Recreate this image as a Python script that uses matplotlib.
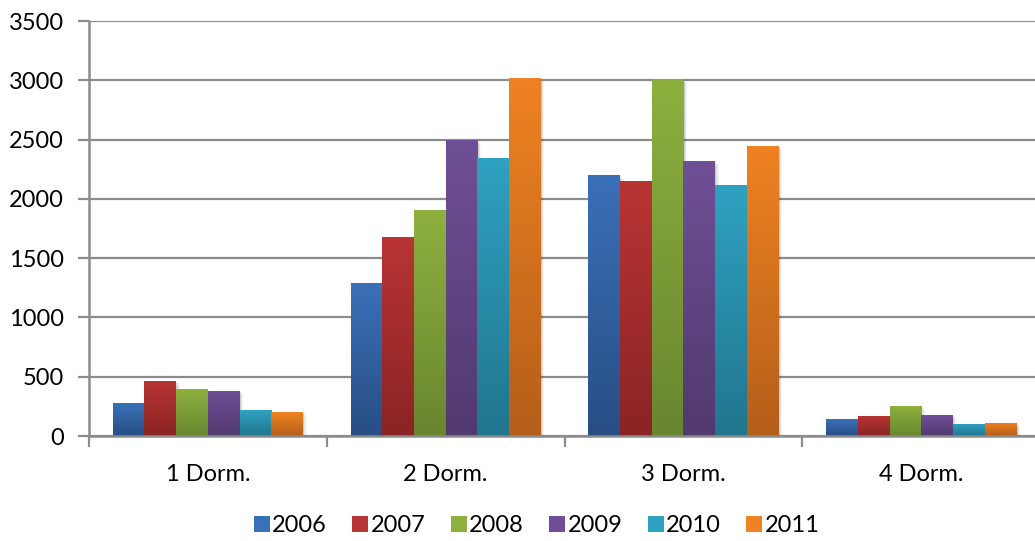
import numpy as np
import matplotlib
matplotlib.use("Agg")
import matplotlib.pyplot as plt
from matplotlib.colors import to_rgb
from matplotlib.lines import Line2D
import matplotlib.transforms as mtransforms

# Units per bedroom count and year
categories = ["1 Dorm.", "2 Dorm.", "3 Dorm.", "4 Dorm."]
years = ["2006", "2007", "2008", "2009", "2010", "2011"]
v2006 = [278, 1290, 2200, 143]
v2007 = [464, 1678, 2150, 169]
v2008 = [396, 1906, 3010, 253]
v2009 = [380, 2496, 2319, 177]
v2010 = [219, 2345, 2117, 101]
v2011 = [202, 3019, 2446, 110]
series = [v2006, v2007, v2008, v2009, v2010, v2011]

# (top colour, bottom colour) for the vertical gradient of each series
top_colors = ["#3a70b8", "#b93434", "#8db03f", "#6f4f96", "#2fa1c1", "#ef8222"]
bot_colors = ["#284e84", "#8a2424", "#69862f", "#513a6f", "#21768e", "#b45f1a"]

plt.rcParams["font.family"] = ["Lato", "DejaVu Sans"]

fig = plt.figure(figsize=(10.35, 5.41), dpi=100)
ax = fig.add_axes([0.086, 0.194, 0.919, 0.767])

n = len(years)
gap = 1.5
width = 1.0 / (n + gap)
x = np.arange(len(categories))
grid_c = "#8c8c8c"

ymax = 3500
for i, vals in enumerate(series):
    offs = (i - (n - 1) / 2) * width
    bars = ax.bar(x + offs, vals, width=width, color=top_colors[i],
                  linewidth=0, zorder=3)
    c0 = np.array(to_rgb(top_colors[i]))
    c1 = np.array(to_rgb(bot_colors[i]))
    for b in bars:
        x0, w, h = b.get_x(), b.get_width(), b.get_height()
        t = np.linspace(0, 1, 64)[:, None, None]
        img = c0 * (1 - t) + c1 * t
        im = ax.imshow(img, extent=[x0, x0 + w, 0, h], aspect="auto",
                       origin="upper", zorder=3.1, interpolation="bilinear")
        im.set_clip_path(b)
        # soft drop shadow
        for k, a in enumerate([0.10, 0.07, 0.04]):
            tr = mtransforms.offset_copy(ax.transData, fig=fig,
                                         x=(k + 1) * 1.2, y=-(k + 1) * 1.2,
                                         units="dots")
            ax.add_patch(plt.Rectangle((x0, 0), w, h, transform=tr,
                                       color="black", alpha=a, lw=0,
                                       zorder=2.5))

ax.set_xlim(-0.5, len(categories) - 0.5)
ax.set_ylim(0, ymax)

# horizontal gridlines
ax.set_yticks(np.arange(0, ymax + 1, 500))
ax.yaxis.grid(True, color=grid_c, linewidth=1.6, zorder=1)
ax.set_axisbelow(True)

for s in ["top", "right"]:
    ax.spines[s].set_visible(False)
for s in ["left", "bottom"]:
    ax.spines[s].set_color(grid_c)
    ax.spines[s].set_linewidth(1.8)
    ax.spines[s].set_zorder(4)

ax.tick_params(axis="y", length=8, width=1.6, color=grid_c, labelsize=17,
               pad=10, labelcolor="black")
ax.set_xticks(x)
ax.set_xticklabels(categories)
ax.set_xticks(np.arange(-0.5, len(categories), 1.0), minor=True)
ax.tick_params(axis="x", which="major", length=0, labelsize=17, pad=20,
               labelcolor="black")
ax.tick_params(axis="x", which="minor", length=8, width=1.6, color=grid_c)

handles = [Line2D([0], [0], marker="s", linestyle="none", markersize=11,
                  markerfacecolor=c, markeredgewidth=0) for c in top_colors]
fig.legend(handles, years, loc="center", bbox_to_anchor=(0.519, 0.029),
           ncol=n, frameon=False, fontsize=17, handlelength=0.6,
           handletextpad=0.15, columnspacing=1.1)

fig.savefig("out.png", dpi=100)
